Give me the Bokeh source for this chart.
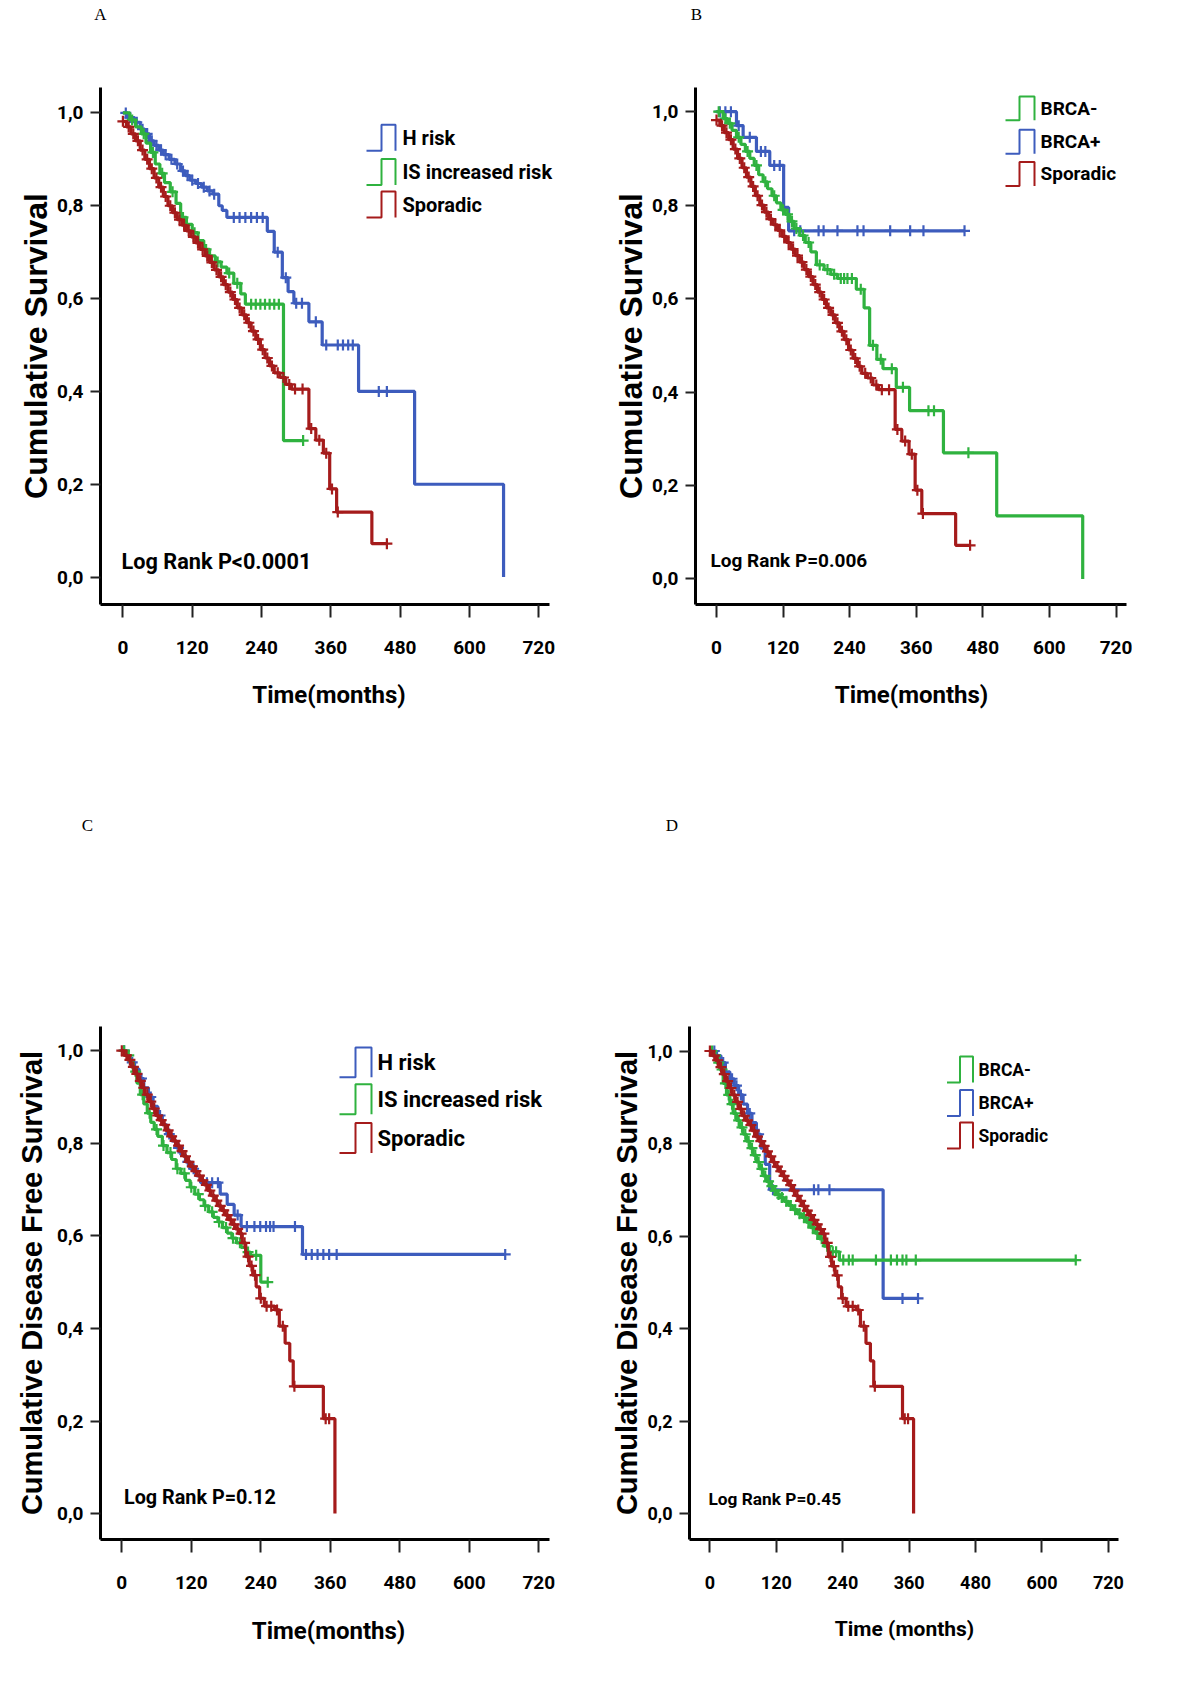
import numpy as np
from bokeh.plotting import figure
from bokeh.models import Range1d, FixedTicker, CustomJSTickFormatter, Label
from bokeh.layouts import column, row
from bokeh.embed import file_html
from bokeh.resources import INLINE

# ---------------- data (months, cumulative survival) ----------------
x_ticks = [0, 120, 240, 360, 480, 600, 720]
y_ticks = [0.0, 0.2, 0.4, 0.6, 0.8, 1.0]

# Panel A: overall survival by risk group
A_hrisk_t = [0, 8, 20, 30, 38, 46, 54, 62, 70, 80, 90, 100, 108, 116, 126, 136, 146, 156, 166, 172, 180, 250, 262, 276, 286, 296, 322, 345, 408, 505, 659]
A_hrisk_s = [1.0, 0.99, 0.98, 0.965, 0.955, 0.94, 0.93, 0.92, 0.91, 0.90, 0.89, 0.875, 0.865, 0.855, 0.848, 0.84, 0.832, 0.825, 0.80, 0.79, 0.775, 0.745, 0.70, 0.645, 0.615, 0.59, 0.55, 0.50, 0.40, 0.20, 0.0]
A_hrisk_c = [5, 12, 24, 34, 42, 50, 58, 66, 74, 84, 94, 104, 112, 120, 130, 140, 150, 158, 192, 202, 212, 222, 232, 242, 268, 282, 300, 310, 334, 352, 372, 381, 390, 398, 443, 457]

A_is_t = [0, 12, 22, 32, 40, 48, 56, 64, 72, 82, 92, 100, 110, 120, 130, 140, 150, 160, 170, 180, 192, 204, 212, 278]
A_is_s = [1.0, 0.985, 0.97, 0.955, 0.935, 0.915, 0.89, 0.87, 0.85, 0.83, 0.805, 0.775, 0.76, 0.742, 0.725, 0.706, 0.692, 0.679, 0.668, 0.655, 0.633, 0.61, 0.588, 0.294]
A_is_c = [16, 36, 52, 68, 86, 104, 124, 144, 164, 184, 198, 222, 230, 238, 246, 254, 262, 270, 312]

# Sporadic, overall survival (panels A and B)
OS_spor_t = [0, 6, 14, 22, 30, 38, 46, 54, 62, 70, 78, 86, 94, 102, 110, 118, 126, 134, 142, 150, 158, 166, 174, 182, 190, 198, 206, 214, 222, 230, 238, 246, 254, 262, 272, 282, 292, 322, 334, 347, 358, 370, 431]
OS_spor_s = [0.982, 0.97, 0.955, 0.94, 0.92, 0.90, 0.88, 0.86, 0.84, 0.82, 0.80, 0.785, 0.77, 0.758, 0.746, 0.733, 0.72, 0.706, 0.692, 0.678, 0.662, 0.647, 0.63, 0.614, 0.598, 0.58, 0.565, 0.548, 0.53, 0.512, 0.49, 0.472, 0.455, 0.44, 0.43, 0.415, 0.405, 0.32, 0.295, 0.267, 0.19, 0.14, 0.072]
OS_spor_c = [0, 10, 18, 26, 34, 42, 50, 58, 66, 74, 82, 90, 98, 106, 114, 122, 130, 138, 146, 154, 162, 170, 178, 186, 194, 202, 210, 218, 226, 234, 242, 250, 258, 268, 278, 288, 298, 311, 326, 340, 352, 362, 372, 457]

# Panel B: overall survival by BRCA status
B_neg_t = [0, 12, 20, 28, 36, 44, 52, 60, 68, 76, 84, 92, 100, 108, 116, 124, 132, 140, 150, 160, 170, 180, 194, 206, 218, 252, 266, 276, 289, 300, 324, 348, 409, 505, 660]
B_neg_s = [1.0, 0.985, 0.975, 0.96, 0.945, 0.93, 0.915, 0.90, 0.885, 0.865, 0.85, 0.835, 0.82, 0.805, 0.79, 0.78, 0.765, 0.75, 0.735, 0.72, 0.70, 0.672, 0.662, 0.652, 0.643, 0.62, 0.58, 0.50, 0.47, 0.45, 0.41, 0.36, 0.27, 0.135, 0.0]
B_neg_c = [4, 16, 24, 40, 56, 72, 88, 104, 120, 128, 136, 144, 156, 166, 186, 200, 212, 224, 230, 236, 244, 260, 282, 296, 316, 336, 382, 392, 454]

B_pos_t = [0, 36, 48, 72, 96, 121, 130]
B_pos_s = [1.0, 0.97, 0.945, 0.915, 0.885, 0.795, 0.745]
B_pos_c = [6, 16, 26, 40, 60, 80, 88, 104, 114, 140, 151, 184, 193, 218, 254, 265, 313, 349, 373, 447]

# Panel C: disease free survival by risk group
C_hrisk_t = [0, 6, 14, 22, 30, 38, 46, 54, 62, 70, 78, 86, 94, 102, 110, 118, 128, 136, 170, 182, 194, 206, 312]
C_hrisk_s = [1.0, 0.99, 0.975, 0.96, 0.94, 0.92, 0.90, 0.88, 0.86, 0.84, 0.82, 0.805, 0.79, 0.775, 0.76, 0.745, 0.73, 0.715, 0.69, 0.668, 0.645, 0.62, 0.56]
C_hrisk_c = [4, 18, 34, 50, 66, 82, 98, 114, 124, 147, 156, 166, 200, 216, 229, 239, 249, 256, 262, 299, 318, 328, 338, 348, 358, 371, 662]

C_is_t = [0, 8, 14, 20, 26, 32, 38, 44, 50, 56, 62, 70, 78, 86, 94, 102, 110, 118, 126, 134, 142, 150, 158, 166, 174, 182, 190, 198, 206, 214, 222, 240]
C_is_s = [1.0, 0.99, 0.975, 0.955, 0.93, 0.905, 0.885, 0.865, 0.845, 0.83, 0.815, 0.795, 0.78, 0.765, 0.745, 0.735, 0.72, 0.705, 0.69, 0.678, 0.665, 0.652, 0.64, 0.63, 0.618, 0.606, 0.595, 0.585, 0.575, 0.565, 0.558, 0.50]
C_is_c = [4, 12, 24, 36, 48, 60, 72, 84, 96, 108, 120, 132, 144, 156, 168, 180, 192, 204, 218, 232, 252]

# Sporadic, disease free survival (panels C and D)
DFS_spor_t = [0, 4, 10, 16, 22, 28, 34, 40, 46, 52, 58, 64, 70, 76, 82, 88, 94, 100, 106, 112, 118, 124, 130, 136, 142, 148, 154, 160, 166, 172, 178, 184, 190, 196, 202, 208, 214, 220, 226, 232, 238, 246, 264, 272, 282, 290, 296, 348, 368]
DFS_spor_s = [1.0, 0.99, 0.98, 0.965, 0.95, 0.935, 0.92, 0.905, 0.89, 0.875, 0.86, 0.85, 0.84, 0.828, 0.815, 0.805, 0.795, 0.783, 0.772, 0.76, 0.75, 0.74, 0.73, 0.72, 0.71, 0.698, 0.687, 0.676, 0.665, 0.655, 0.645, 0.635, 0.625, 0.615, 0.605, 0.585, 0.555, 0.535, 0.515, 0.49, 0.465, 0.448, 0.44, 0.405, 0.368, 0.33, 0.275, 0.205, 0.0]
DFS_spor_c = [0, 8, 14, 20, 26, 32, 38, 44, 50, 56, 62, 68, 74, 80, 86, 92, 98, 104, 110, 116, 122, 128, 134, 140, 146, 152, 158, 164, 170, 176, 182, 188, 194, 200, 206, 212, 218, 224, 230, 240, 250, 258, 268, 278, 298, 352, 358]

# Panel D: disease free survival by BRCA status
D_neg_t = [0, 6, 12, 18, 24, 30, 36, 42, 48, 54, 60, 66, 72, 78, 84, 90, 96, 102, 108, 114, 120, 126, 134, 142, 150, 158, 166, 174, 182, 190, 198, 206, 216, 234]
D_neg_s = [1.0, 0.99, 0.975, 0.96, 0.93, 0.905, 0.885, 0.865, 0.85, 0.835, 0.82, 0.805, 0.79, 0.775, 0.76, 0.745, 0.73, 0.718, 0.708, 0.698, 0.69, 0.683, 0.675, 0.666, 0.657, 0.648, 0.64, 0.63, 0.618, 0.606, 0.594, 0.578, 0.566, 0.548]
D_neg_c = [4, 10, 16, 22, 28, 34, 40, 46, 52, 58, 64, 70, 76, 82, 88, 94, 100, 106, 112, 118, 124, 130, 138, 146, 154, 162, 170, 178, 186, 194, 202, 212, 222, 228, 241, 251, 258, 300, 327, 338, 348, 355, 372, 661]

D_pos_t = [0, 12, 20, 28, 36, 44, 52, 60, 68, 76, 84, 92, 100, 108, 313]
D_pos_s = [1.0, 0.99, 0.975, 0.955, 0.94, 0.925, 0.905, 0.885, 0.865, 0.845, 0.82, 0.79, 0.755, 0.70, 0.465]
D_pos_c = [8, 24, 40, 48, 56, 72, 88, 114, 152, 188, 196, 216, 348, 376]

panel_letters = ["A", "B", "C", "D"]

# ---------------- styles ----------------
BLUE = "#3d5cbd"
GREEN = "#2fb23f"
RED = "#a51b1b"
COND = "Roboto"
WIDE = "Liberation Sans"
SERIF = "Liberation Serif"

# page-pixel layout of each panel (figure box, axis lines, tick reference positions)
LAY = {
    "A": dict(ox=0, oy=30, w=600, h=760, yax=100.2, xax=607.0, ytop=87.3, xend=548.5, fright=557, x0=122.4, x720=538.3, y1=112.6, y0=579.4),
    "B": dict(ox=600, oy=30, w=600, h=760, yax=695.0, xax=604.4, ytop=84.3, xend=1125.8, fright=1127, x0=716.0, x720=1115.5, y1=108.3, y0=578.3),
    "C": dict(ox=0, oy=850, w=600, h=840, yax=99.9, xax=1539.0, ytop=1023.6, xend=548.5, fright=556, x0=121.3, x720=538.3, y1=1048.3, y0=1513.0),
    "D": dict(ox=600, oy=850, w=600, h=840, yax=689.1, xax=1539.0, ytop=1025.8, xend=1117.5, fright=1119, x0=709.4, x720=1107.9, y1=1050.5, y0=1513.0),
}


def surv_at(t, s, c):
    t = np.asarray(t, float)
    s = np.asarray(s, float)
    idx = np.searchsorted(t, np.asarray(c, float), side="right") - 1
    return s[np.clip(idx, 0, len(s) - 1)]


def build(key, curves, legend, logrank, ylabel, xlabel, sty):
    L = LAY[key]
    mbl = int(round(L["yax"] - L["ox"]))
    mbr = int(round(L["ox"] + L["w"] - L["fright"]))
    mbt = int(round(L["ytop"] - L["oy"]))
    mbb = int(round(L["oy"] + L["h"] - L["xax"]))
    fl = L["ox"] + mbl
    fr = L["ox"] + L["w"] - mbr
    ft = L["oy"] + mbt
    fb = L["oy"] + L["h"] - mbb
    k = (L["x720"] - L["x0"]) / 720.0
    m = (L["y0"] - L["y1"])

    def dx(px):
        return (px - L["x0"]) / k

    def dy(py):
        return (L["y0"] - py) / m

    p = figure(width=L["w"], height=L["h"], x_range=Range1d(dx(fl), dx(fr)), y_range=Range1d(dy(fb), dy(ft)),
               output_backend="svg", toolbar_location=None, title=None,
               min_border_left=mbl, min_border_right=mbr, min_border_top=mbt, min_border_bottom=mbb)
    p.outline_line_color = None
    p.grid.visible = False
    p.background_fill_color = "white"

    # axes
    p.xaxis.ticker = FixedTicker(ticks=x_ticks)
    p.yaxis.ticker = FixedTicker(ticks=y_ticks)
    p.xaxis.bounds = (dx(fl), dx(L["xend"]))
    p.yaxis.formatter = CustomJSTickFormatter(code="return tick.toFixed(1).replace('.', ',');")
    for ax in (p.xaxis[0], p.yaxis[0]):
        ax.axis_line_width = 3
        ax.axis_line_color = "black"
        ax.major_tick_line_width = 2
        ax.major_tick_line_color = "#222222"
        ax.major_tick_in = 0
        ax.minor_tick_line_color = None
        ax.major_label_text_font = COND
        ax.major_label_text_font_style = "bold"
        ax.major_label_text_color = "black"
        ax.major_label_text_font_size = sty["tick"]
        ax.axis_label_text_color = "black"
        ax.axis_label_text_font_style = "bold"
    p.xaxis.major_tick_out = 13
    p.yaxis.major_tick_out = 10
    p.xaxis.major_label_standoff = sty["xstand"]
    p.yaxis.major_label_standoff = 7
    p.xaxis.axis_label = xlabel
    p.xaxis.axis_label_text_font = COND
    p.xaxis.axis_label_text_font_size = sty["xlab"]
    p.xaxis.axis_label_standoff = sty["xlstand"]
    p.yaxis.axis_label = ylabel
    p.yaxis.axis_label_text_font = WIDE
    p.yaxis.axis_label_text_font_size = sty["ylab"]
    p.yaxis.axis_label_standoff = sty["ylstand"]

    # curves
    for (t, s, c, col) in curves:
        tt = list(t)
        ss = list(s)
        if len(c) and max(c) > tt[-1] and ss[-1] > 0:
            tt.append(max(c))
            ss.append(ss[-1])
        p.step(x=tt, y=ss, mode="after", line_color=col, line_width=3.2)
        p.scatter(x=c, y=surv_at(t, s, c), marker="cross", size=11,
                  line_color=col, line_width=2.2)

    # legend (step-shaped keys)
    xl, xm, xr_, xt = legend["xl"], legend["xm"], legend["xr"], legend["xt"]
    hh = legend["hh"]
    for (name, col, yc) in legend["items"]:
        p.line(x=[dx(xl), dx(xm), dx(xm), dx(xr_), dx(xr_)],
               y=[dy(yc + hh), dy(yc + hh), dy(yc - hh), dy(yc - hh), dy(yc + hh)],
               line_color=col, line_width=2)
        p.add_layout(Label(x=dx(xt), y=dy(yc), text=name, text_font=COND,
                           text_font_style="bold", text_font_size=legend["fs"],
                           text_baseline="middle", text_align="left", text_color="black"))

    # log rank text
    p.add_layout(Label(x=dx(logrank["x"]), y=dy(logrank["y"]), text=logrank["text"],
                       text_font=COND, text_font_style="bold", text_font_size=logrank["fs"],
                       text_baseline="middle", text_align="left", text_color="black"))
    return p


def letter_strip(top, height, items):
    s = figure(width=1200, height=height, x_range=Range1d(0, 1200), y_range=Range1d(top + height, top),
               output_backend="svg", toolbar_location=None, title=None,
               x_axis_type=None, y_axis_type=None, min_border=0)
    s.outline_line_color = None
    s.background_fill_color = "white"
    for (txt, px, py) in items:
        s.add_layout(Label(x=px, y=py, text=txt, text_font=SERIF, text_font_size="17px",
                           text_baseline="middle", text_align="center", text_color="black"))
    return s


pA = build("A",
           [(A_hrisk_t, A_hrisk_s, A_hrisk_c, BLUE),
            (A_is_t, A_is_s, A_is_c, GREEN),
            (OS_spor_t, OS_spor_s, OS_spor_c, RED)],
           dict(xl=366, xm=381, xr=395, xt=402, hh=13, fs="20px",
                items=[("H risk", BLUE, 137.5), ("IS increased risk", GREEN, 172.0), ("Sporadic", RED, 204.7)]),
           dict(x=121, y=564, text="Log Rank P<0.0001", fs="21.7px"),
           "Cumulative Survival", "Time(months)",
           dict(tick="19px", xlab="24px", ylab="32px", xstand=23, xlstand=24, ylstand=0))

pB = build("B",
           [(B_pos_t, B_pos_s, B_pos_c, BLUE),
            (B_neg_t, B_neg_s, B_neg_c, GREEN),
            (OS_spor_t, OS_spor_s, OS_spor_c, RED)],
           dict(xl=1005, xm=1019, xr=1034, xt=1040, hh=12, fs="19px",
                items=[("BRCA-", GREEN, 105.0), ("BRCA+", BLUE, 138.6), ("Sporadic", RED, 171.0)]),
           dict(x=710, y=560, text="Log Rank P=0.006", fs="19px"),
           "Cumulative Survival", "Time(months)",
           dict(tick="19px", xlab="24px", ylab="32px", xstand=23, xlstand=24, ylstand=0))

pC = build("C",
           [(C_hrisk_t, C_hrisk_s, C_hrisk_c, BLUE),
            (C_is_t, C_is_s, C_is_c, GREEN),
            (DFS_spor_t, DFS_spor_s, DFS_spor_c, RED)],
           dict(xl=339, xm=355, xr=371, xt=377, hh=15, fs="22px",
                items=[("H risk", BLUE, 1060.0), ("IS increased risk", GREEN, 1097.0), ("Sporadic", RED, 1136.0)]),
           dict(x=123.5, y=1497, text="Log Rank P=0.12", fs="19.8px"),
           "Cumulative Disease Free Survival", "Time(months)",
           dict(tick="19px", xlab="24px", ylab="29px", xstand=23, xlstand=25, ylstand=6))

pD = build("D",
           [(D_pos_t, D_pos_s, D_pos_c, BLUE),
            (D_neg_t, D_neg_s, D_neg_c, GREEN),
            (DFS_spor_t, DFS_spor_s, DFS_spor_c, RED)],
           dict(xl=946.5, xm=959.5, xr=972.5, xt=978, hh=13, fs="17.5px",
                items=[("BRCA-", GREEN, 1069.0), ("BRCA+", BLUE, 1102.5), ("Sporadic", RED, 1135.0)]),
           dict(x=708, y=1498, text="Log Rank P=0.45", fs="17.3px"),
           "Cumulative Disease Free Survival", "Time (months)",
           dict(tick="18px", xlab="21px", ylab="29px", xstand=23, xlstand=25, ylstand=1))

top_strip = letter_strip(0, 30, [(panel_letters[0], 100, 14), (panel_letters[1], 696, 14)])
mid_strip = letter_strip(790, 60, [(panel_letters[2], 87, 825), (panel_letters[3], 671.5, 825)])

page = column(top_strip, row(pA, pB), mid_strip, row(pC, pD))
open("out.html", "w").write(file_html(page, INLINE))
